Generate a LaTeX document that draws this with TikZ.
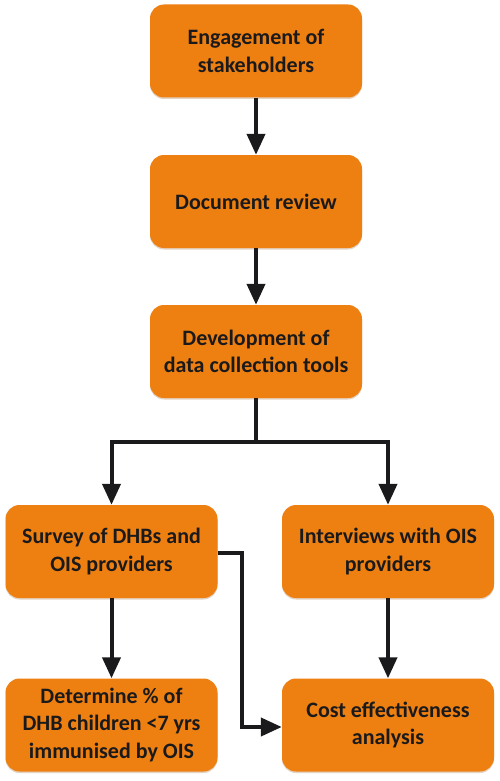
\documentclass[tikz,border=0pt]{standalone}
\usepackage{fontspec}
\setmainfont{Carlito}
\usetikzlibrary{arrows.meta,shadows}
\definecolor{boxorange}{RGB}{238,127,17}
\definecolor{inkdark}{RGB}{26,26,28}
\tikzset{
  stepbox/.style={fill=boxorange, draw=none, rounded corners=14pt,
    minimum width=212pt, minimum height=93pt, align=center,
    font=\fontsize{22}{27.5}\selectfont\bfseries, text=inkdark,
    drop shadow={shadow xshift=0pt, shadow yshift=-1.5pt, opacity=0.25, fill=boxorange!60!black}},
  conn/.style={draw=inkdark, line width=4pt,
    -{Triangle[length=21pt,width=18pt]}},
  plainconn/.style={draw=inkdark, line width=4pt}
}
\begin{document}
\begin{tikzpicture}[x=1pt,y=-1pt]
\useasboundingbox (0,0) rectangle (500,781);
\node[stepbox] (eng) at (256,51) {Engagement of\\stakeholders};
\node[stepbox] (doc) at (256,201.5) {Document review};
\node[stepbox] (dev) at (256,351.5) {Development of\\data collection tools};
\node[stepbox] (srv) at (111.5,551.5) {Survey of DHBs and\\OIS providers};
\node[stepbox] (int) at (388,551.5) {Interviews with OIS\\providers};
\node[stepbox] (det) at (111.5,725) {Determine \% of\\DHB children <7 yrs\\immunised by OIS};
\node[stepbox] (cost) at (388,725) {Cost effectiveness\\analysis};
\coordinate (split) at (256,442);
\coordinate (splitL) at (111.5,442);
\coordinate (splitR) at (388,442);
\coordinate (elbowA) at (242,553);
\coordinate (elbowB) at (242,727);
\draw[conn] (eng) -- (doc);
\draw[conn] (doc) -- (dev);
\draw[plainconn] (dev) -- (split);
\draw[conn, line join=miter] (split) -- (splitL) -- (srv);
\draw[conn, line join=miter] (split) -- (splitR) -- (int);
\draw[conn] (srv) -- (det);
\draw[conn] (int) -- (cost);
\draw[conn, line join=miter] (srv.east |- elbowA) -- (elbowA) -- (elbowB) -- (cost.west |- elbowB);
\end{tikzpicture}
\end{document}
